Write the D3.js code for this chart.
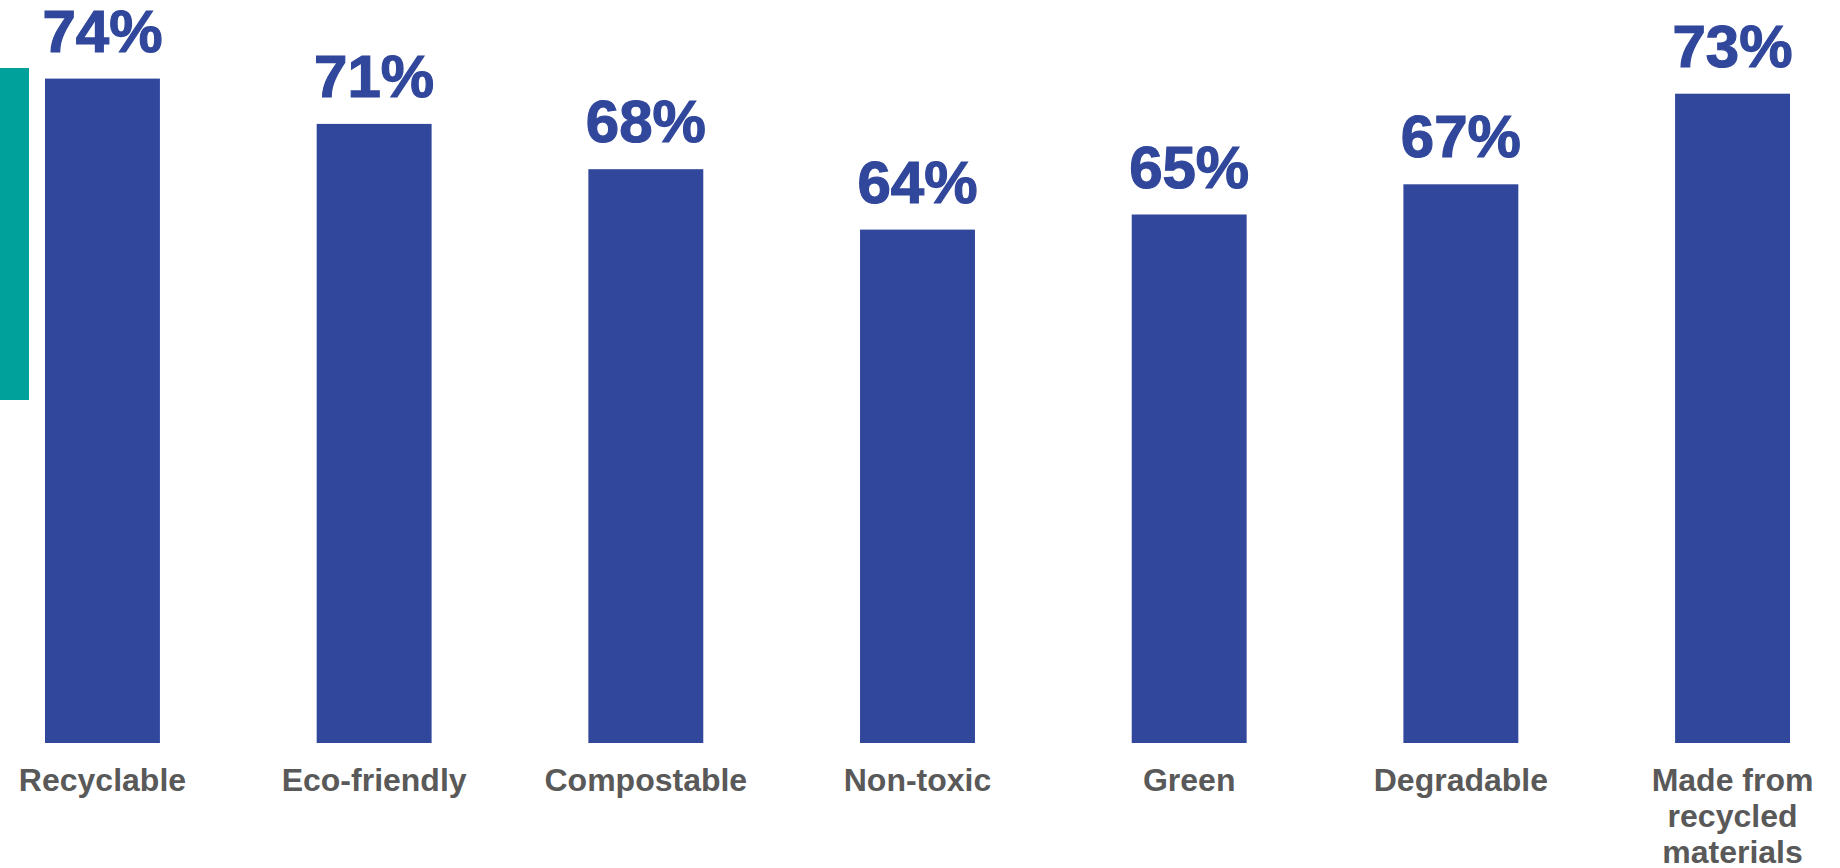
<!DOCTYPE html>
<html>
<head>
<meta charset="utf-8">
<script src="https://cdn.jsdelivr.net/npm/d3@7"></script>
<style>
  html, body { margin: 0; padding: 0; background: #fff; }
</style>
</head>
<body>
<div id="chart"></div>
<script>
// Chart data
const categories = ["Recyclable", "Eco-friendly", "Compostable", "Non-toxic", "Green", "Degradable", "Made from recycled materials"];
const values = [74, 71, 68, 64, 65, 67, 73];
// Category labels broken onto lines as in the original
const labelLines = [["Recyclable"], ["Eco-friendly"], ["Compostable"], ["Non-toxic"], ["Green"], ["Degradable"], ["Made from", "recycled", "materials"]];

const width = 1840;
const height = 868;

const svg = d3.select("#chart")
  .append("svg")
  .attr("width", width)
  .attr("height", height);

// Teal accent strip on the left edge
svg.append("rect")
  .attr("x", 0)
  .attr("y", 68)
  .attr("width", 29)
  .attr("height", 332)
  .attr("fill", "#00a19a");

// Scales (value axis does not start at zero)
const xScale = d3.scaleBand()
  .domain(categories)
  .range([45, 1790])
  .paddingInner(0.577)
  .paddingOuter(0);

const yScale = d3.scaleLinear()
  .domain([30, 80])
  .range([743, -12]);

const data = categories.map((c, i) => ({ cat: c, value: values[i], lines: labelLines[i] }));

// Bars
svg.selectAll("rect.bar")
  .data(data)
  .enter()
  .append("rect")
  .attr("class", "bar")
  .attr("x", (d) => xScale(d.cat))
  .attr("y", (d) => yScale(d.value))
  .attr("width", xScale.bandwidth())
  .attr("height", (d) => yScale(30) - yScale(d.value))
  .attr("fill", "#30479b");

// Value labels
svg.selectAll("text.value")
  .data(data)
  .enter()
  .append("text")
  .attr("class", "value")
  .attr("x", (d) => xScale(d.cat) + xScale.bandwidth() / 2)
  .attr("y", (d) => yScale(d.value) - 27)
  .attr("text-anchor", "middle")
  .attr("font-family", "'Liberation Sans', Arial, sans-serif")
  .attr("font-weight", "bold")
  .attr("font-size", 60)
  .attr("fill", "#30479b")
  .attr("stroke", "#30479b")
  .attr("stroke-width", 1.2)
  .text((d) => `${d.value}%`);

// Category labels
const catLabels = svg.selectAll("text.cat")
  .data(data)
  .enter()
  .append("text")
  .attr("class", "cat")
  .attr("text-anchor", "middle")
  .attr("font-family", "'Liberation Sans', Arial, sans-serif")
  .attr("font-weight", "bold")
  .attr("font-size", 32)
  .attr("fill", "#595959");

catLabels.selectAll("tspan")
  .data((d) => d.lines.map((l) => ({ line: l, cat: d.cat })))
  .enter()
  .append("tspan")
  .attr("x", (d) => xScale(d.cat) + xScale.bandwidth() / 2)
  .attr("y", (d, i) => 791 + i * 36)
  .text((d) => d.line);
</script>
</body>
</html>
